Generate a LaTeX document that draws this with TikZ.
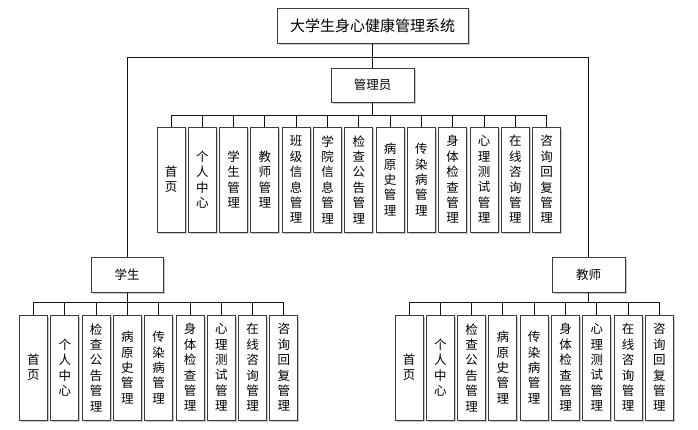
\documentclass[tikz,border=0pt]{standalone}
\usepackage{fontspec}
\setmainfont{Noto Sans CJK SC}
\XeTeXlinebreaklocale "zh"
\XeTeXlinebreakskip=0pt plus 1pt
\usepackage{tikz}
\usetikzlibrary{shadows}
\definecolor{boxline}{RGB}{60,60,60}
\definecolor{linkline}{RGB}{20,20,20}
\definecolor{shadowgray}{RGB}{200,200,200}
\tikzset{
  topbox/.style={rectangle, draw=boxline, fill=white, line width=1pt,
    minimum width=191pt, minimum height=35pt,
    font=\fontsize{15}{18}\selectfont,
    drop shadow={shadow xshift=1.5pt, shadow yshift=-1.5pt, fill=shadowgray, opacity=1}},
  rolebox/.style={rectangle, draw=boxline, fill=white, line width=1pt,
    minimum width=73pt, minimum height=35pt,
    font=\fontsize{12.5}{15}\selectfont,
    drop shadow={shadow xshift=1.5pt, shadow yshift=-1.5pt, fill=shadowgray, opacity=1}},
  funcbox/.style={rectangle, draw=boxline, fill=white, line width=1pt,
    minimum width=28pt, minimum height=105pt, inner sep=0pt,
    text width=13pt, align=center,
    font=\fontsize{12.5}{15.4}\selectfont,
    drop shadow={shadow xshift=1.5pt, shadow yshift=-1.5pt, fill=shadowgray, opacity=1}},
  link/.style={line width=0.9pt, color=linkline}
}
\newcommand\admlist{首页, 个人中心, 学生管理, 教师管理, 班级信息管理, 学院信息管理,
  检查公告管理, 病原史管理, 传染病管理, 身体检查管理, 心理测试管理,
  在线咨询管理, 咨询回复管理}
\newcommand\userlist{首页, 个人中心, 检查公告管理, 病原史管理, 传染病管理,
  身体检查管理, 心理测试管理, 在线咨询管理, 咨询回复管理}

\begin{document}
\begin{tikzpicture}[x=1pt, y=-1pt]
  \useasboundingbox (0,0) rectangle (698,429);

  % top and role boxes
  \node[topbox] (sys) at (372.5,25.5) {大学生身心健康管理系统};
  \node[rolebox, minimum width=83pt, minimum height=34pt] (adm) at (372.5,85) {管理员};
  \node[rolebox, minimum width=72pt] (stu) at (127,274.5) {学生};
  \node[rolebox] (tea) at (588.5,274.5) {教师};

  \draw[link] (sys.south) -- (adm.north);
  \draw[link] (sys.south) -- ++(0,14) -| (stu.north);
  \draw[link] (sys.south) -- ++(0,14) -| (tea.north);

  % function boxes
  \foreach \t [count=\i from 0] in \admlist {
    \node[funcbox] (a\i) at (171+31.3*\i,179.5) {\t};
    \draw[link] (adm.south) -- ++(0,13) -| (a\i.north);
  }
  \foreach \t [count=\i from 0] in \userlist {
    \node[funcbox] (s\i) at (33.5+31.3*\i,367.5) {\t};
    \draw[link] (stu.south) -- ++(0,10) -| (s\i.north);
    \node[funcbox] (t\i) at (409+31.3*\i,367.5) {\t};
    \draw[link] (tea.south) -- ++(0,10) -| (t\i.north);
  }
\end{tikzpicture}
\end{document}
